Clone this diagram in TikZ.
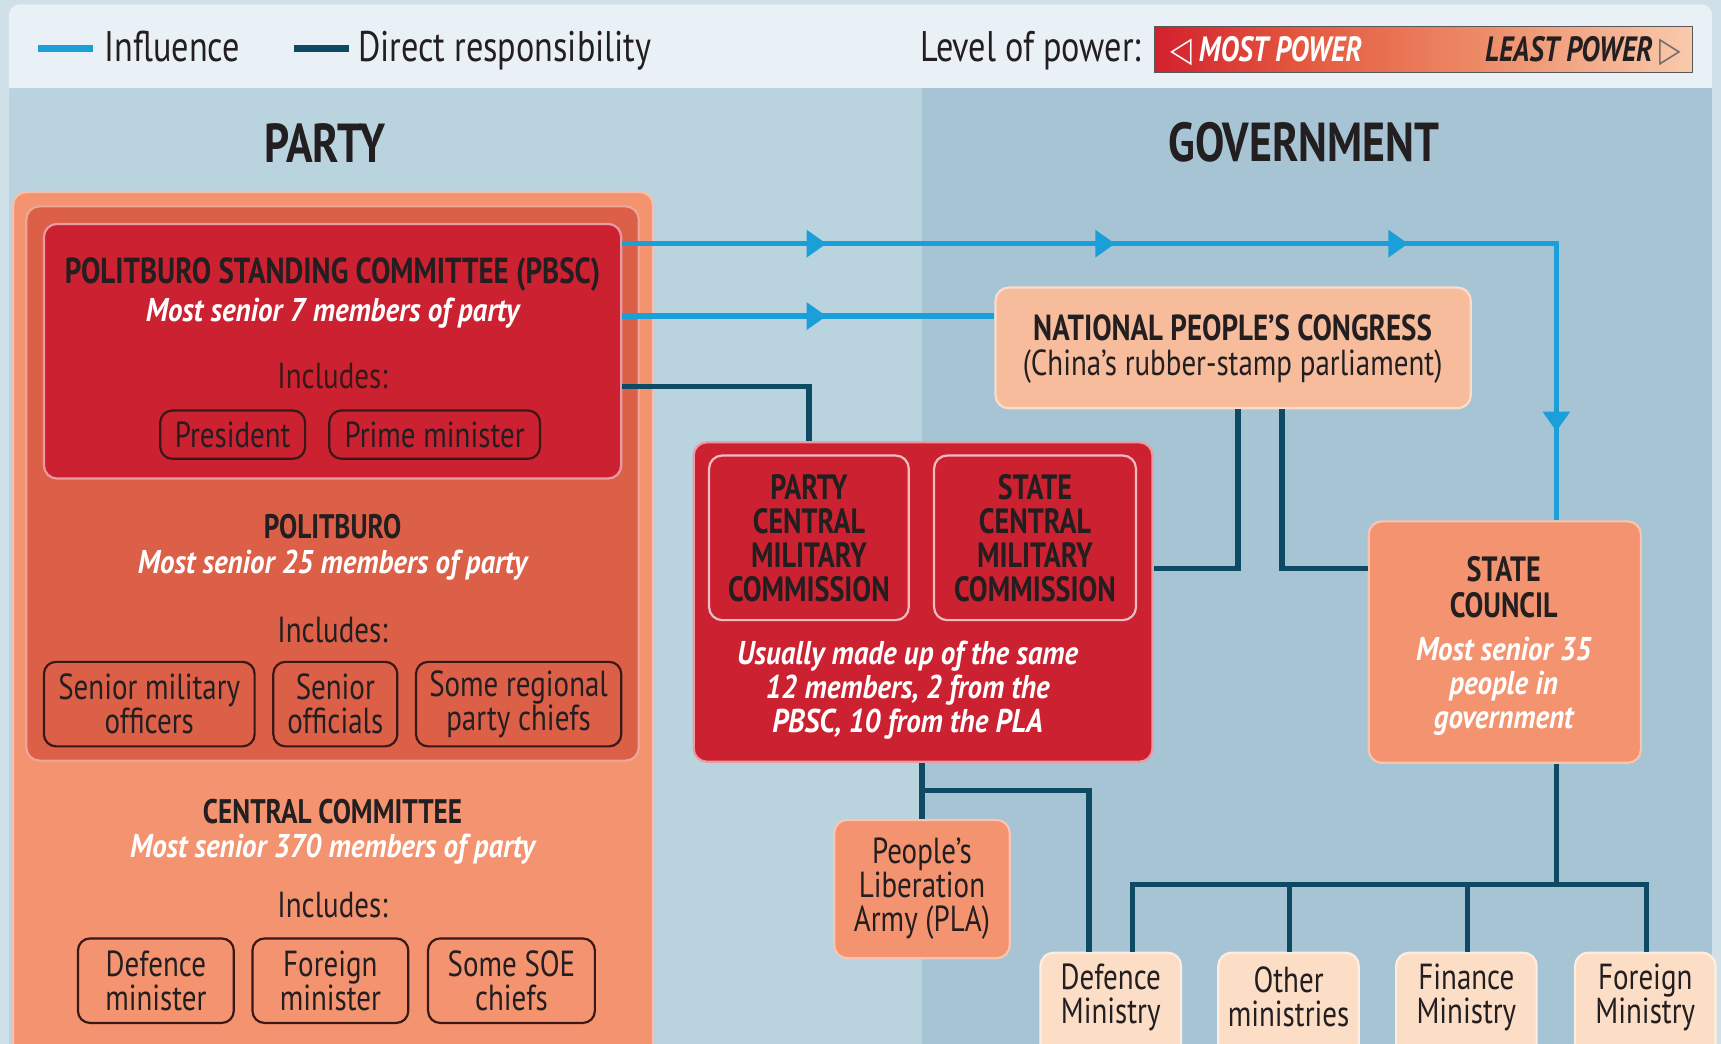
\documentclass[tikz,border=0pt]{standalone}
\usepackage{fontspec}
\setmainfont[FakeStretch=0.8]{PT Sans}
\newfontfamily\itf[FakeStretch=0.88]{PT Sans}
\newfontfamily\symf[FakeStretch=0.8]{DejaVu Sans}
\usetikzlibrary{arrows.meta,decorations.markings,calc}
\definecolor{edgebg}{HTML}{CFE0E9}
\definecolor{legbg}{HTML}{E9F1F6}
\definecolor{partybg}{HTML}{B9D3DF}
\definecolor{govbg}{HTML}{A6C4D3}
\definecolor{redc}{HTML}{CC2131}
\definecolor{pbc}{HTML}{DC5F48}
\definecolor{salm}{HTML}{F49370}
\definecolor{npcc}{HTML}{F6BC9C}
\definecolor{minc}{HTML}{FCDDC6}
\definecolor{inflc}{HTML}{1B9FD9}
\definecolor{dirc}{HTML}{0E4A64}
\definecolor{ink}{HTML}{231E1F}
\definecolor{pillc}{HTML}{3A1818}
\definecolor{barred}{HTML}{D3202D}
\definecolor{barora}{HTML}{E45A40}
\definecolor{barmid}{HTML}{ED8A66}
\definecolor{barlight}{HTML}{F9CAAC}
\definecolor{trig}{HTML}{6E6A6A}
\pgfdeclarehorizontalshading{powerbar}{100bp}{color(0bp)=(barred); color(25bp)=(barred); color(39bp)=(barora); color(55bp)=(barmid); color(75bp)=(barlight); color(100bp)=(barlight)}
\tikzset{
  box/.style={rectangle, rounded corners=12, line width=2, inner sep=0},
  pill/.style={rectangle, rounded corners=11, draw=pillc, line width=2, inner sep=0, align=center,
     font=\fontsize{33}{31}\selectfont, text=ink},
  ttl/.style={inner sep=0, align=center, font=\fontsize{31}{31}\selectfont\bfseries, text=ink},
  sub/.style={inner sep=0, align=center, font=\itf\fontsize{30}{31}\selectfont\bfseries\itshape, text=white},
  bdy/.style={inner sep=0, align=center, font=\fontsize{33}{31}\selectfont, text=ink},
  infl/.style={draw=inflc, line width=5},
  dirl/.style={draw=dirc, line width=5},
  tri/.tip={Triangle[length=18pt,width=24pt]}
}
\begin{document}
\begin{tikzpicture}[x=1pt,y=-1pt]
\useasboundingbox (0,0) rectangle (1568,951);
\clip (0,0) rectangle (1568,951);
% backgrounds
\fill[edgebg] (0,0) rectangle (1568,951);
\fill[legbg, rounded corners=10] (8,4) rectangle (1560,100);
\fill[partybg] (8,80) rectangle (840,951);
\fill[govbg] (840,80) rectangle (1560,951);

% legend
\coordinate (la1) at (35,44); \coordinate (la2) at (85,44);
\draw[draw=inflc, line width=6] (la1) -- (la2);
\node[bdy, anchor=base west, font=\fontsize{39}{39}\selectfont] (lt1) at (95,56) {Influence};
\coordinate (lb1) at (268,44); \coordinate (lb2) at (318,44);
\draw[draw=dirc, line width=6] (lb1) -- (lb2);
\node[bdy, anchor=base west, font=\fontsize{39}{39}\selectfont] (lt2) at (326,56) {Direct responsibility};
\node[bdy, anchor=base east, font=\fontsize{39}{39}\selectfont] (lt3) at (1040,56) {Level of power:};
\node[rectangle, draw=gray!70!black, line width=1.5, shading=powerbar,
      minimum width=490, minimum height=42, inner sep=0] (bar) at (1297,45) {};
\node[inner sep=0, anchor=base west, text=white, font=\fontsize{32}{32}\selectfont\bfseries\itshape] (most) at (1066,56)
   {{\symf ◁} MOST POWER};
\node[inner sep=0, anchor=base east, text=ink, font=\fontsize{32}{32}\selectfont\bfseries\itshape] (least) at (1532,56)
   {LEAST POWER {\symf\mdseries\upshape\color{trig}▷}};

% headers
\node[ttl, font=\fontsize{50}{50}\selectfont\bfseries] (hparty) at (296,130) {PARTY};
\node[ttl, font=\fontsize{50}{50}\selectfont\bfseries] (hgov) at (1188,130) {GOVERNMENT};

% party boxes
\node[box, fill=salm, draw=salm!60!white, minimum width=583, minimum height=800] (cc) at (303.5,575) {};
\node[box, fill=pbc, draw=pbc!55!white, minimum width=558, minimum height=505] (pb) at (303,440.5) {};
\node[box, fill=redc, draw=redc!45!white, minimum width=526, minimum height=232] (pbsc) at (303,320) {};

\node[ttl, font=\fontsize{33}{31}\selectfont\bfseries] (pbscT) at (303,250) {POLITBURO STANDING COMMITTEE (PBSC)};
\node[sub] (pbscS) at (303,285) {Most senior 7 members of party};
\node[bdy, text=pillc] (pbscI) at (303,343) {Includes:};
\node[pill, minimum width=132, minimum height=44] (pres) at (212,396) {President};
\node[pill, minimum width=192, minimum height=44] (prime) at (396,396) {Prime minister};

\node[ttl] (pbT) at (303,480) {POLITBURO};
\node[sub] (pbS) at (303,515) {Most senior 25 members of party};
\node[bdy] (pbI) at (303,574) {Includes:};
\node[pill, minimum width=192, minimum height=77] (smo) at (136,641.5) {Senior military\\officers};
\node[pill, minimum width=113, minimum height=77] (so) at (305.5,641.5) {Senior\\officials};
\node[pill, minimum width=187, minimum height=77] (srpc) at (472.5,641.5) {Some regional\\party chiefs};

\node[ttl] (ccT) at (303,739) {CENTRAL COMMITTEE};
\node[sub] (ccS) at (303,774) {Most senior 370 members of party};
\node[bdy] (ccI) at (303,825) {Includes:};
\node[pill, minimum width=142, minimum height=77] (dmin) at (142,893.5) {Defence\\minister};
\node[pill, minimum width=142, minimum height=77] (fmin) at (301,893.5) {Foreign\\minister};
\node[pill, minimum width=152, minimum height=77] (soe) at (466,893.5) {Some SOE\\chiefs};

% government boxes
\node[box, fill=npcc, draw=npcc!50!white, minimum width=433, minimum height=110] (npc) at (1123.5,317) {};
\node[ttl, font=\fontsize{33}{31}\selectfont\bfseries] (npcT) at (1123,299) {NATIONAL PEOPLE’S CONGRESS};
\node[bdy] (npcS) at (1123,334) {(China’s rubber-stamp parliament)};

\node[box, fill=redc, draw=redc!45!white, minimum width=418, minimum height=291] (cmc) at (841,548.5) {};
\node[box, fill=redc, draw=redc!30!white, minimum width=182, minimum height=150] (pcmc) at (737,490) {};
\node[box, fill=redc, draw=redc!30!white, minimum width=184, minimum height=150] (scmc) at (943,490) {};
\node[ttl, font=\fontsize{32}{31}\selectfont\bfseries] (pcmcT) at (737,490) {PARTY\\CENTRAL\\MILITARY\\COMMISSION};
\node[ttl, font=\fontsize{32}{31}\selectfont\bfseries] (scmcT) at (943,490) {STATE\\CENTRAL\\MILITARY\\COMMISSION};
\node[sub] (cmcS) at (827,629) {Usually made up of the same\\12 members, 2 from the\\PBSC, 10 from the PLA};

\node[box, fill=salm, draw=salm!55!white, minimum width=248, minimum height=220] (sc) at (1371,585) {};
\node[ttl, font=\fontsize{32}{33}\selectfont\bfseries] (scT) at (1370,535) {STATE\\COUNCIL};
\node[sub] (scS) at (1370,625) {Most senior 35\\people in\\government};

\node[box, fill=salm, draw=salm!55!white, minimum width=160, minimum height=126] (pla) at (840,810) {};
\node[bdy] (plaT) at (840,809.5) {People’s\\Liberation\\Army (PLA)};

\node[box, fill=minc, draw=minc!50!white, minimum width=128, minimum height=100] (min1) at (1012,918) {};
\node[box, fill=minc, draw=minc!50!white, minimum width=128, minimum height=100] (min2) at (1174,918) {};
\node[box, fill=minc, draw=minc!50!white, minimum width=128, minimum height=100] (min3) at (1336,918) {};
\node[box, fill=minc, draw=minc!50!white, minimum width=128, minimum height=100] (min4) at (1499,918) {};
\node[bdy] (min1T) at (1012,908.5) {Defence\\Ministry};
\node[bdy] (min2T) at (1174,908.5) {Other\\ministries};
\node[bdy] (min3T) at (1336,908.5) {Finance\\Ministry};
\node[bdy] (min4T) at (1499,908.5) {Foreign\\Ministry};

% influence connectors
\draw[infl, postaction={decorate}, decoration={markings,
   mark=at position 186pt with {\arrow{tri}},
   mark=at position 449pt with {\arrow{tri}},
   mark=at position 716pt with {\arrow{tri}},
   mark=at position 1022pt with {\arrow{tri}}}]
   (pbsc.east |- 0,222) -- (1418,222) -- (sc.north -| 1418,0);
\draw[infl, postaction={decorate}, decoration={markings,
   mark=at position 186pt with {\arrow{tri}}}]
   (pbsc.east |- 0,288) -- (npc.west |- 0,288);

% direct responsibility connectors
\draw[dirl] (pbsc.east |- 0,352) -| (cmc.north -| 737,0);
\draw[dirl] (npc.south -| 1128,0) |- (cmc.east |- 0,518);
\draw[dirl] (npc.south -| 1168,0) |- (sc.west |- 0,518);
\draw[dirl] (cmc.south -| 840,0) -- (pla.north -| 840,0);
\coordinate (plaj) at (840,720);
\draw[dirl] (plaj) -| (min1.north -| 992,0);
\coordinate (scj) at (1418,806);
\draw[dirl] (sc.south -| 1418,0) -- (scj);
\draw[dirl] (min1.north -| 1032,0) |- (scj) -| (min4.north -| 1500,0);
\draw[dirl] (min2.north -| 1175,0) -- (1175,806);
\draw[dirl] (min3.north -| 1337,0) -- (1337,806);
\end{tikzpicture}
\end{document}
